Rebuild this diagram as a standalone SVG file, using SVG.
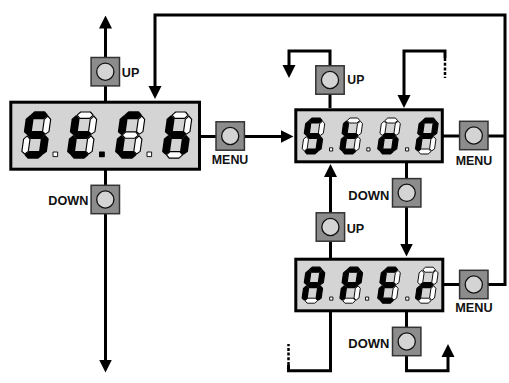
<svg xmlns="http://www.w3.org/2000/svg" xmlns:xlink="http://www.w3.org/1999/xlink" width="509" height="383" viewBox="0 0 509 383">
<style>
.box{fill:#d4d4d4;stroke:#000;stroke-width:3}
.bsq{fill:#8c8c8c;stroke:#333;stroke-width:1.5}
.bci{fill:#d4d4d4;stroke:#111;stroke-width:1.3}
.on{fill:#000;stroke:#000;stroke-width:1.2;stroke-linejoin:round}
.off{fill:#fff;stroke:#000;stroke-width:0.9;stroke-linejoin:round}
.ln{fill:none;stroke:#000;stroke-width:3}
.dash{fill:none;stroke:#000;stroke-width:2.5;stroke-dasharray:3 1.7}
.lbl{font-family:"Liberation Sans",Arial,sans-serif;font-weight:bold;font-size:13.5px;fill:#111}
</style>
<defs>
<marker id="arr" viewBox="0 -7 13 14" markerWidth="13" markerHeight="14" refX="0.5" refY="0" orient="auto" markerUnits="userSpaceOnUse">
<path d="M0,-6.5 L13,0 L0,6.5 z" fill="#000"/>
</marker>
<polygon id="sa" points="3.2,2.5 5.7,0 13.3,0 15.8,2.5 13.3,5 5.7,5"/>
<polygon id="sg" points="3.2,18 5.7,15.5 13.3,15.5 15.8,18 13.3,20.5 5.7,20.5"/>
<polygon id="sd" points="3.2,33.5 5.7,31 13.3,31 15.8,33.5 13.3,36 5.7,36"/>
<polygon id="sf" points="2.5,3.2 5,5.7 5,15.3 2.5,17.3 0,15.3 0,5.7"/>
<polygon id="sb" points="16.5,3.2 19,5.7 19,15.3 16.5,17.3 14,15.3 14,5.7"/>
<polygon id="se" points="2.5,18.7 5,21.2 5,30.8 2.5,32.8 0,30.8 0,21.2"/>
<polygon id="sc" points="16.5,18.7 19,21.2 19,30.8 16.5,32.8 14,30.8 14,21.2"/>
<g id="btn"><rect x="-14.2" y="-14.2" width="28.4" height="28.4" class="bsq"/><circle r="8.6" class="bci"/></g>
</defs>

<g id="connectors">
<path class="ln" d="M105.5,101 V28" marker-end="url(#arr)"/>
<path class="ln" d="M105.5,170 V360" marker-end="url(#arr)"/>
<path class="ln" d="M201,136.5 H281" marker-end="url(#arr)"/>
<path class="ln" d="M444,284.5 H505 V15 H155 V86.5" marker-end="url(#arr)"/>
<path class="ln" d="M443,136 H505"/>
<path class="ln" d="M330,108 V51 H289 V65.5" marker-end="url(#arr)"/>
<path class="ln" d="M445,58 V51 H404 V95.5" marker-end="url(#arr)"/>
<path class="dash" d="M445,58 V78"/>
<path class="ln" d="M406.5,163 V244" marker-end="url(#arr)"/>
<path class="ln" d="M330.5,258 V176.5" marker-end="url(#arr)"/>
<path class="ln" d="M330.5,312 V370.8 H288.5 V365"/>
<path class="dash" d="M288.5,365 V344"/>
<path class="ln" d="M406.5,312 V370.8 H448 V356.5" marker-end="url(#arr)"/>
</g>

<g id="disp-stch">
<rect x="10.8" y="102.2" width="188.7" height="67" class="box"/>
<g transform="translate(21,112) scale(1.28) translate(5,0) skewX(-8)">
<use href="#sa" class="on"/><use href="#sb" class="off"/><use href="#sc" class="on"/><use href="#sd" class="on"/><use href="#se" class="off"/><use href="#sf" class="on"/><use href="#sg" class="on"/>
</g>
<g transform="translate(67,112) scale(1.28) translate(5,0) skewX(-8)">
<use href="#sa" class="off"/><use href="#sb" class="off"/><use href="#sc" class="off"/><use href="#sd" class="on"/><use href="#se" class="on"/><use href="#sf" class="on"/><use href="#sg" class="on"/>
</g>
<g transform="translate(115,112) scale(1.28) translate(5,0) skewX(-8)">
<use href="#sa" class="on"/><use href="#sb" class="off"/><use href="#sc" class="off"/><use href="#sd" class="on"/><use href="#se" class="on"/><use href="#sf" class="on"/><use href="#sg" class="off"/>
</g>
<g transform="translate(162,112) scale(1.28) translate(5,0) skewX(-8)">
<use href="#sa" class="off"/><use href="#sb" class="off"/><use href="#sc" class="on"/><use href="#sd" class="off"/><use href="#se" class="on"/><use href="#sf" class="on"/><use href="#sg" class="on"/>
</g>
<rect x="53" y="152" width="4.6" height="4.6" class="off"/>
<rect x="99.6" y="152" width="4.6" height="4.6" class="on"/>
<rect x="147" y="152" width="4.6" height="4.6" class="off"/>
</g>

<g id="disp-stop">
<rect x="295.8" y="109.8" width="146.5" height="52" class="box"/>
<g transform="translate(301.5,118) translate(5,0) skewX(-8)">
<use href="#sa" class="on"/><use href="#sb" class="off"/><use href="#sc" class="on"/><use href="#sd" class="on"/><use href="#se" class="off"/><use href="#sf" class="on"/><use href="#sg" class="on"/>
</g>
<g transform="translate(339.3,118) translate(5,0) skewX(-8)">
<use href="#sa" class="off"/><use href="#sb" class="off"/><use href="#sc" class="off"/><use href="#sd" class="on"/><use href="#se" class="on"/><use href="#sf" class="on"/><use href="#sg" class="on"/>
</g>
<g transform="translate(377.1,118) translate(5,0) skewX(-8)">
<use href="#sa" class="off"/><use href="#sb" class="off"/><use href="#sc" class="on"/><use href="#sd" class="on"/><use href="#se" class="on"/><use href="#sf" class="off"/><use href="#sg" class="on"/>
</g>
<g transform="translate(414.9,118) translate(5,0) skewX(-8)">
<use href="#sa" class="on"/><use href="#sb" class="on"/><use href="#sc" class="off"/><use href="#sd" class="off"/><use href="#se" class="on"/><use href="#sf" class="on"/><use href="#sg" class="on"/>
</g>
<rect x="329.5" y="147.8" width="3.2" height="3.2" class="off"/>
<rect x="366.8" y="147.8" width="3.2" height="3.2" class="off"/>
<rect x="405.5" y="147.8" width="3.2" height="3.2" class="off"/>
</g>

<g id="disp-aper">
<rect x="295.8" y="259.2" width="147" height="51.6" class="box"/>
<g transform="translate(301.5,267.2) translate(5,0) skewX(-8)">
<use href="#sa" class="on"/><use href="#sb" class="on"/><use href="#sc" class="on"/><use href="#sd" class="off"/><use href="#se" class="on"/><use href="#sf" class="on"/><use href="#sg" class="on"/>
</g>
<g transform="translate(339.3,267.2) translate(5,0) skewX(-8)">
<use href="#sa" class="on"/><use href="#sb" class="on"/><use href="#sc" class="off"/><use href="#sd" class="off"/><use href="#se" class="on"/><use href="#sf" class="on"/><use href="#sg" class="on"/>
</g>
<g transform="translate(377.1,267.2) translate(5,0) skewX(-8)">
<use href="#sa" class="on"/><use href="#sb" class="off"/><use href="#sc" class="off"/><use href="#sd" class="on"/><use href="#se" class="on"/><use href="#sf" class="on"/><use href="#sg" class="on"/>
</g>
<g transform="translate(414.9,267.2) translate(5,0) skewX(-8)">
<use href="#sa" class="off"/><use href="#sb" class="off"/><use href="#sc" class="off"/><use href="#sd" class="off"/><use href="#se" class="on"/><use href="#sf" class="off"/><use href="#sg" class="on"/>
</g>
<rect x="329.7" y="297" width="3.2" height="3.2" class="off"/>
<rect x="365.5" y="297" width="3.2" height="3.2" class="off"/>
<rect x="405.7" y="297" width="3.2" height="3.2" class="off"/>
</g>

<g id="btn-up-1"><use href="#btn" x="105.3" y="71.7"/><text class="lbl" x="121.8" y="77.3" textLength="17.5" lengthAdjust="spacingAndGlyphs">UP</text></g>
<g id="btn-menu-1"><use href="#btn" x="230.2" y="136"/><text class="lbl" x="211.8" y="164" textLength="36.5" lengthAdjust="spacingAndGlyphs">MENU</text></g>
<g id="btn-down-1"><use href="#btn" x="105.3" y="199.5"/><text class="lbl" x="48.3" y="205" textLength="40" lengthAdjust="spacingAndGlyphs">DOWN</text></g>
<g id="btn-up-2"><use href="#btn" x="330" y="80"/><text class="lbl" x="347.3" y="84.3" textLength="17" lengthAdjust="spacingAndGlyphs">UP</text></g>
<g id="btn-menu-2"><use href="#btn" x="473.8" y="135.5"/><text class="lbl" x="455.7" y="165" textLength="36.6" lengthAdjust="spacingAndGlyphs">MENU</text></g>
<g id="btn-down-2"><use href="#btn" x="406.7" y="192.8"/><text class="lbl" x="348.3" y="199.5" textLength="41" lengthAdjust="spacingAndGlyphs">DOWN</text></g>
<g id="btn-up-3"><use href="#btn" x="330.4" y="227"/><text class="lbl" x="346.7" y="233.2" textLength="17.5" lengthAdjust="spacingAndGlyphs">UP</text></g>
<g id="btn-menu-3"><use href="#btn" x="473.8" y="284.5"/><text class="lbl" x="455.2" y="312.3" textLength="37.4" lengthAdjust="spacingAndGlyphs">MENU</text></g>
<g id="btn-down-3"><use href="#btn" x="406.7" y="341.5"/><text class="lbl" x="348.3" y="348" textLength="41" lengthAdjust="spacingAndGlyphs">DOWN</text></g>
</svg>
